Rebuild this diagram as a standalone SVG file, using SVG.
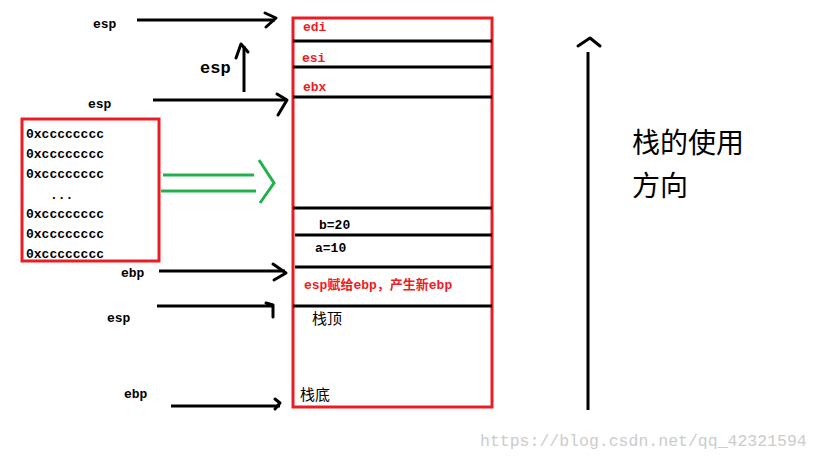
<svg xmlns="http://www.w3.org/2000/svg" width="819" height="460" viewBox="0 0 819 460">
<style>
.k{stroke:#000;stroke-width:3;fill:none}
.h{stroke:#000;stroke-width:3;fill:none;stroke-linecap:round;stroke-linejoin:round}
.r{stroke:#ed1c24;stroke-width:3;fill:none}
.g{stroke:#22b14c;stroke-width:3;fill:none}
.t{font-family:"Liberation Mono","Noto Sans CJK SC",monospace;font-size:13px;font-weight:bold;fill:#000}
.rt{font-family:"Liberation Mono","Noto Sans CJK SC",monospace;font-size:13px;font-weight:bold;fill:#ed1c24}
.c{font-family:"Noto Sans CJK SC",sans-serif;fill:#000}
</style>
<rect width="819" height="460" fill="#fff"/>
<g id="stack">
<rect x="293" y="18" width="199" height="389" class="r"/>
<g class="k">
<line x1="293" y1="41" x2="492" y2="41"/><line x1="293" y1="67" x2="492" y2="67"/>
<line x1="293" y1="97" x2="492" y2="97"/><line x1="293" y1="208" x2="492" y2="208"/>
<line x1="295" y1="235" x2="492" y2="235"/><line x1="295" y1="267" x2="492" y2="267"/>
<line x1="293" y1="306" x2="492" y2="306"/>
</g>
<text class="rt" x="303" y="31">edi</text><text class="rt" x="302" y="62">esi</text><text class="rt" x="303" y="91">ebx</text>
<text class="t" x="319" y="229">b=20</text><text class="t" x="315" y="252">a=10</text>
<text class="rt" x="304" y="289">esp赋给ebp，产生新ebp</text>
<text class="c" x="312" y="324" font-size="15">栈顶</text>
<text class="c" x="300" y="400" font-size="15">栈底</text>
</g>
<g id="memory">
<rect x="22" y="119" width="137" height="142" class="r"/>
<g class="t">
<text x="26" y="138">0xcccccccc</text><text x="26" y="158">0xcccccccc</text><text x="26" y="178">0xcccccccc</text>
<text x="50" y="199">...</text>
<text x="26" y="218">0xcccccccc</text><text x="26" y="238">0xcccccccc</text><text x="26" y="258">0xcccccccc</text>
</g>
</g>
<g id="direction">
<line x1="588" y1="52" x2="588" y2="410" class="k"/>
<path d="M578 46 L590 38 L600 46" class="h"/>
<text class="c" x="632" y="153" font-size="28">栈的使用</text>
<text class="c" x="632" y="196" font-size="28">方向</text>
</g>
<g id="connectors">
<line x1="137" y1="20" x2="275" y2="20" class="k"/><path d="M265 13 L276 18 L266 27" class="h"/>
<line x1="153" y1="100" x2="287" y2="100" class="k"/><path d="M277 94 L287 100 L278 115" class="h"/>
<line x1="244" y1="92" x2="244" y2="46" class="k"/><path d="M236 58 L241 44 L248 52" class="h"/>
<line x1="159" y1="271" x2="285" y2="271" class="k"/><path d="M273 264 L286 273 L274 280" class="h"/>
<line x1="157" y1="306" x2="273" y2="306" class="k"/><path d="M266 303 L273 305 L273 317" class="h"/>
<line x1="171" y1="406" x2="280" y2="406" class="k"/><path d="M275 399 L280 403 L275 409" class="h"/>
<line x1="163" y1="175" x2="254" y2="175" class="g"/><line x1="161" y1="191" x2="256" y2="191" class="g"/>
<path d="M259 160 L274 183 L260 203" class="g"/>
</g>
<g class="t">
<text x="93" y="28">esp</text><text x="88" y="108">esp</text><text x="121" y="277">ebp</text>
<text x="107" y="322">esp</text><text x="124" y="398">ebp</text>
</g>
<text x="200" y="73" font-family="Liberation Mono,monospace" font-size="17" font-weight="bold">esp</text>
<text x="480" y="446" font-family="Liberation Mono,monospace" font-size="16.5" fill="#ccc">https://blog.csdn.net/qq_42321594</text>
</svg>
